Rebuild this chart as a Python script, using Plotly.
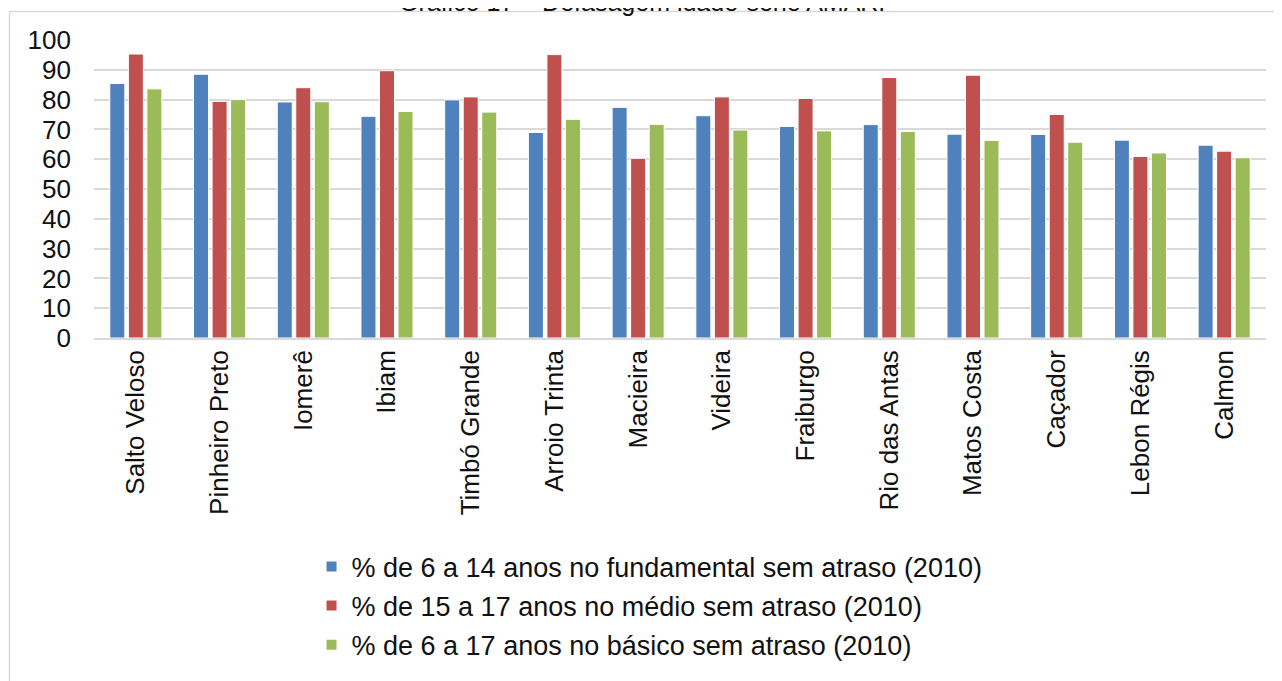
import plotly.graph_objs as go

municipios = ["Salto Veloso", "Pinheiro Preto", "Iomerê", "Ibiam", "Timbó Grande",
              "Arroio Trinta", "Macieira", "Videira", "Fraiburgo", "Rio das Antas",
              "Matos Costa", "Caçador", "Lebon Régis", "Calmon"]
fundamental = [85.4, 88.5, 79.2, 74.4, 79.9, 69.0, 77.4, 74.6, 71.0, 71.6, 68.4, 68.3, 66.4, 64.7]
medio = [95.3, 79.4, 84.0, 89.7, 80.9, 95.1, 60.3, 80.9, 80.4, 87.4, 88.2, 75.0, 60.9, 62.7]
basico = [83.6, 80.0, 79.3, 76.0, 75.8, 73.4, 71.7, 69.8, 69.5, 69.3, 66.3, 65.7, 62.1, 60.5]

nomes = ["% de 6 a 14 anos no fundamental sem atraso (2010)",
         "% de 15 a 17 anos no médio sem atraso (2010)",
         "% de 6 a 17 anos no básico sem atraso (2010)"]
cores = ["#4F81BD", "#C0504D", "#9BBB59"]

# a página tem 8px de margem no body
W, H = 1274, 673
ml, mr, mt, mb = 86, 16, 32, 343
fonte = "Arial, Liberation Sans, sans-serif"

fig = go.Figure()
for nome, vals, cor in zip(nomes, [fundamental, medio, basico], cores):
    fig.add_trace(go.Bar(x=municipios, y=vals, name=nome, legendgroup=nome,
                         marker=dict(color=cor, line=dict(color="white", width=1))))

# moldura do gráfico (cortada à direita e embaixo)
pw, ph = W - ml - mr, H - mt - mb
fx0 = (1.5 - ml) / pw
fy0 = (H - mb - 3.5) / ph
fig.add_shape(type="line", xref="paper", yref="paper", x0=fx0, x1=(W + 5 - ml) / pw,
              y0=fy0, y1=fy0, line=dict(color="#D9D9D9", width=1.5))
fig.add_shape(type="line", xref="paper", yref="paper", x0=fx0, x1=fx0,
              y0=fy0, y1=-(mb + 5) / ph, line=dict(color="#D9D9D9", width=1.5))

fig.update_layout(
    width=W, height=H,
    margin=dict(l=ml, r=mr, t=mt, b=mb),
    paper_bgcolor="white", plot_bgcolor="white",
    font=dict(family=fonte, size=26, color="#111111"),
    title=dict(text="Gráfico 17 – Defasagem idade-série AMARP", x=0.5016, xanchor="center",
               yref="container", y=1 - 3 / H, yanchor="bottom",
               font=dict(family=fonte, size=25, color="#111111")),
    barmode="group", bargap=0.336, bargroupgap=0.19,
    showlegend=True,
    legend=dict(orientation="v", x=0.474, xanchor="center", y=-0.686, yanchor="top",
                tracegroupgap=1, font=dict(size=27), itemsizing="constant"),
    xaxis=dict(tickangle=-90, showgrid=False, showline=True, linecolor="#D9D9D9",
               linewidth=1.5, ticks="", tickfont=dict(size=26)),
    yaxis=dict(range=[0, 100], dtick=10, showgrid=True, gridcolor="#D9D9D9", gridwidth=1.5,
               zeroline=False, ticks="", ticklabelstandoff=22, tickfont=dict(size=26)),
)

fig.write_html("out.html")
